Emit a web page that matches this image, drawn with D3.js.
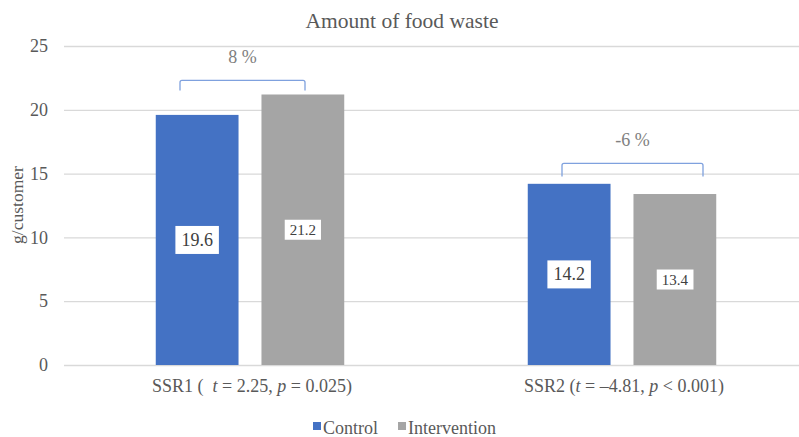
<!DOCTYPE html>
<html>
<head>
<meta charset="utf-8">
<script src="https://cdn.jsdelivr.net/npm/d3@7"></script>
<style>
  html, body { margin: 0; padding: 0; background: #fff; }
  svg { display: block; }
  svg text { font-family: "Liberation Serif", "DejaVu Serif", serif; }
</style>
</head>
<body>
<svg id="chart" width="799" height="437"></svg>
<script>
// Food waste per customer, control vs intervention
const sites = ["SSR1", "SSR2"];
const seriesNames = ["Control", "Intervention"];
const controlValues = [19.6, 14.2];
const interventionValues = [21.2, 13.4];
const changeLabels = ["8 %", "-6 %"];
const yTicks = [0, 5, 10, 15, 20, 25];
const tStats = ["2.25", "\u20134.81"];
const pStats = ["= 0.025", "< 0.001"];

const colors = { Control: "#4472C4", Intervention: "#A5A5A5" };
const textColor = "#595959";
const FONT = "Liberation Serif, DejaVu Serif, serif";

const svg = d3.select("#chart").attr("font-family", FONT);

const y = d3.scaleLinear().domain([0, 25]).range([365, 46]);
const x0 = d3.scaleBand().domain(sites).range([64, 808]).paddingInner(0).paddingOuter(0);
const x1 = d3.scaleBand().domain(seriesNames).range([0, x0.bandwidth()])
  .paddingInner(0.217).paddingOuter(0.868);

// Title
svg.append("text")
  .attr("x", 402).attr("y", 28)
  .attr("text-anchor", "middle")
  .attr("font-family", FONT)
  .attr("font-size", 21.5)
  .attr("fill", textColor)
  .text("Amount of food waste");

// Grid and y tick labels
const yAxis = d3.axisLeft(y).tickValues(yTicks).tickSize(-(808 - 64)).tickPadding(16);
const gy = svg.append("g").attr("transform", "translate(64,0)").call(yAxis)
  .attr("font-family", FONT);
gy.select(".domain").remove();
gy.selectAll(".tick line").attr("stroke", "#D9D9D9").attr("stroke-width", 1.3);
gy.selectAll(".tick text").attr("fill", textColor).attr("font-size", 18)
  .attr("font-family", FONT);

// Y axis title
svg.append("text")
  .attr("transform", "translate(23,205) rotate(-90)")
  .attr("text-anchor", "middle")
  .attr("font-family", FONT)
  .attr("font-size", 17.5)
  .attr("fill", textColor)
  .text("g/customer");

// Bars
const rows = sites.map((s, i) => ({
  site: s,
  values: [
    { key: "Control", value: controlValues[i] },
    { key: "Intervention", value: interventionValues[i] }
  ]
}));

const groups = svg.selectAll("g.site").data(rows).join("g")
  .attr("class", "site")
  .attr("transform", d => `translate(${x0(d.site)},0)`);

groups.selectAll("rect.bar").data(d => d.values).join("rect")
  .attr("class", "bar")
  .attr("x", d => x1(d.key))
  .attr("width", x1.bandwidth())
  .attr("y", d => y(d.value))
  .attr("height", d => y(0) - y(d.value))
  .attr("fill", d => colors[d.key]);

// Value labels in white boxes at bar mid-height
const labelFont = { Control: 18, Intervention: 15 };
const labelPad = { Control: [6, 5], Intervention: [5, 3] };
groups.each(function(d) {
  const g = d3.select(this);
  d.values.forEach(v => {
    const cx = x1(v.key) + x1.bandwidth() / 2;
    const cy = (y(v.value) + y(0)) / 2;
    const t = g.append("text")
      .attr("x", cx).attr("y", cy)
      .attr("text-anchor", "middle")
      .attr("dominant-baseline", "central")
      .attr("font-family", FONT)
      .attr("font-size", labelFont[v.key])
      .attr("fill", "#404040")
      .text(v.value.toFixed(1));
    const bb = t.node().getBBox();
    const [px, py] = labelPad[v.key];
    g.insert("rect", () => t.node())
      .attr("x", bb.x - px).attr("y", bb.y - py + 1)
      .attr("width", bb.width + 2 * px).attr("height", bb.height + 2 * py - 2)
      .attr("fill", "#fff");
  });
});

// Change brackets above each pair
const bracketSpan = [[-70, 55], [-60, 81]];
const bracketRise = [1.1, 1.6];
const bracketDrop = [10, 13];
rows.forEach((d, i) => {
  const cx = x0(d.site) + x0.bandwidth() / 2;
  const top = Math.max(...d.values.map(v => v.value)) + bracketRise[i];
  const yt = y(top);
  const xl = cx + bracketSpan[i][0], xr = cx + bracketSpan[i][1];
  const r = 2;
  svg.append("path")
    .attr("d", `M${xl},${yt + bracketDrop[i]} L${xl},${yt + r} Q${xl},${yt} ${xl + r},${yt} L${xr - r},${yt} Q${xr},${yt} ${xr},${yt + r} L${xr},${yt + bracketDrop[i]}`)
    .attr("fill", "none")
    .attr("stroke", "#7FA1DE")
    .attr("stroke-width", 1.3);
  svg.append("text")
    .attr("x", (xl + xr) / 2).attr("y", yt - 17)
    .attr("text-anchor", "middle")
    .attr("font-family", FONT)
    .attr("font-size", 18)
    .attr("fill", "#808080")
    .text(changeLabels[i]);
});

// Category labels with test statistics
rows.forEach((d, i) => {
  const cx = x0(d.site) + x0.bandwidth() / 2;
  const t = svg.append("text")
    .attr("x", cx + 2).attr("y", 392)
    .attr("text-anchor", "middle")
    .attr("font-family", FONT)
    .attr("font-size", 18)
    .attr("fill", textColor);
  t.append("tspan").text(d.site + (i === 0 ? " (\u00A0 " : " ("));
  t.append("tspan").attr("font-style", "italic").text("t");
  t.append("tspan").text(" = " + tStats[i] + ", ");
  t.append("tspan").attr("font-style", "italic").text("p");
  t.append("tspan").text(" " + pStats[i] + ")");
});

// Legend
const legend = svg.append("g").attr("transform", "translate(313,0)");
let lx = 0;
seriesNames.forEach(name => {
  legend.append("rect")
    .attr("x", lx).attr("y", 422).attr("width", 8).attr("height", 8)
    .attr("fill", colors[name]);
  const t = legend.append("text")
    .attr("x", lx + 10).attr("y", 434)
    .attr("font-family", FONT)
    .attr("font-size", 18)
    .attr("fill", textColor)
    .text(name);
  lx += 10 + t.node().getComputedTextLength() + 20;
});
</script>
</body>
</html>
